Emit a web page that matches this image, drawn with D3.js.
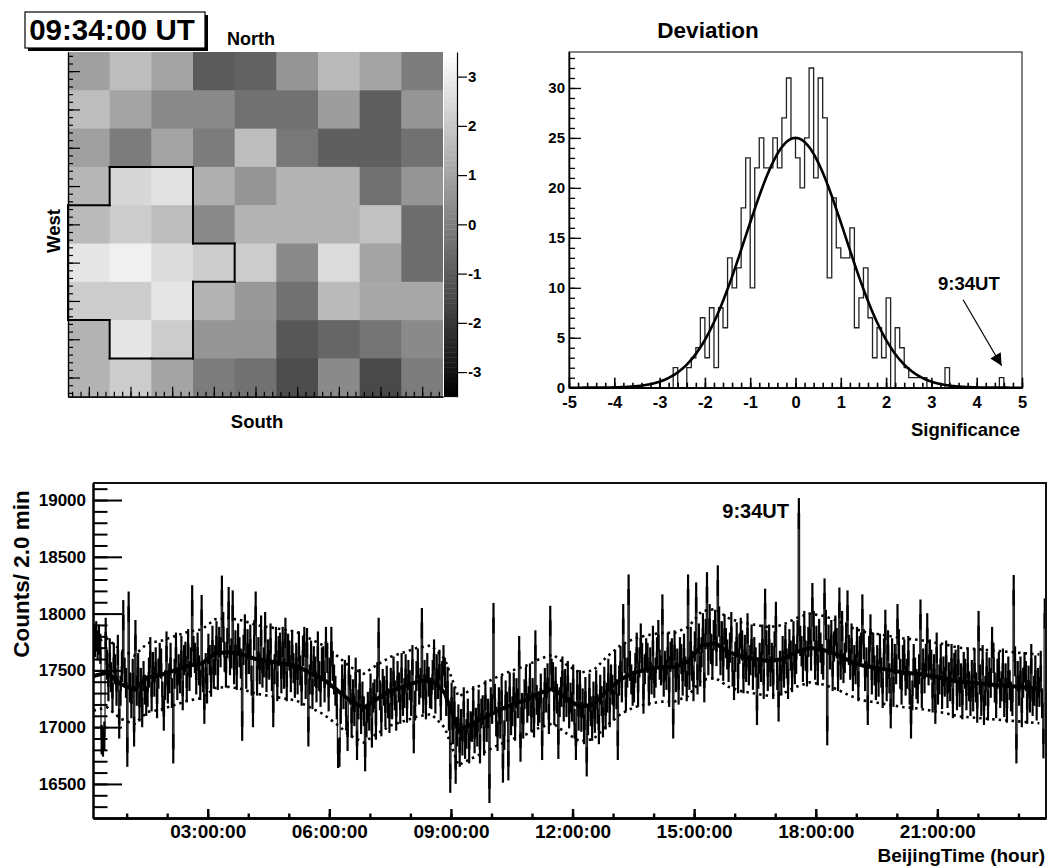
<!DOCTYPE html>
<html>
<head>
<meta charset="utf-8">
<script src="https://cdn.jsdelivr.net/npm/d3@7"></script>
<style>
  body { margin: 0; background: #fff; }
  text { font-family: "Liberation Sans", Arial, sans-serif; font-weight: bold; fill: #000; }
</style>
</head>
<body>
<script>
// ---------- sky map (significance, north row first, west column first) ----------
const skyMap = [
  [0.9, 1.7, 1.0, -1.0, -0.8, 0.6, 1.6, 1.0, -0.1],
  [1.7, 1.0, 0.3, 0.3, -0.4, -0.4, 0.8, -0.9, 0.6],
  [0.9, -0.1, 1.0, -0.1, 1.7, -0.2, -0.9, -0.9, -0.4],
  [1.5, 2.4, 2.7, 1.3, 0.6, 1.4, 1.4, -0.4, 0.6],
  [1.6, 2.1, 1.7, 0.3, 1.4, 1.4, 1.4, 1.8, -0.5],
  [2.8, 3.1, 2.5, 2.1, 2.1, 0.3, 2.5, 1.0, -0.5],
  [2.1, 2.1, 2.8, 1.4, 0.7, -0.4, 1.6, 1.1, 1.1],
  [1.4, 2.8, 2.1, 0.6, 0.6, -1.1, -0.7, -0.3, 0.3],
  [1.4, 2.1, 1.0, -0.1, -0.4, -1.4, 0.3, -1.5, -0.1]
];
// cells inside the outlined excess region [row, col]
const excessCells = [[3,1],[3,2],[4,0],[4,1],[4,2],[5,0],[5,1],[5,2],[5,3],[6,0],[6,1],[6,2],[7,1],[7,2]];
const colorTicks = [-3, -2, -1, 0, 1, 2, 3];

// ---------- significance histogram (bins of 0.1 from -5) ----------
const sigLow = -5, sigWidth = 0.1;
const sigCounts = [
  0,0,0,0,0,0,0,0,0,0, 0,0,0,0,0,0,0,0,0,0,
  0,0,0,2,0,0,2,3,4,7, 3,8,2,8,6,13,10,12,18,23,
  10,22,25,22,22,25,22,27,31,25, 23,20,25,32,21,31,27,11,19,14,
  13,13,16,6,9,12,7,3,6,3, 9,0,6,4,2,1,1,1,1,0,
  0,0,0,2,0,0,0,0,0,0, 0,0,0,0,0,1,0,0,0,0
];
const gausFit = { norm: 25, mean: 0, sigma: 1.1 };
const sigTicks = [-5, -4, -3, -2, -1, 0, 1, 2, 3, 4, 5];
const sigCountTicks = [0, 5, 10, 15, 20, 25, 30];

// ---------- counts per 2 min, starting 00:10 Beijing time ----------
const startMinute = 10, binMinutes = 2;
const counts = [
  17780,17750,17800,17720,17770,17690,16890,16870,16920,17830,
  17550,17360,17650,17440,17260,17610,17510,17320,17680,17030,
  17320,17530,17985,17480,17390,16780,18060,17350,17210,17470,
  16960,17810,17320,17520,17180,17390,17130,17450,17330,17230,
  17310,17480,17660,17270,17530,17400,17570,17210,17470,17610,
  17560,17270,17100,17370,17710,17340,17430,17610,17300,16810,
  17470,17700,17370,17510,17430,17670,17280,17590,17620,17350,
  17730,17450,17570,18115,17670,17610,17420,17700,17500,17370,
  18030,17440,17160,17520,17340,17690,17590,17400,17760,17470,
  17590,17800,17460,17750,17660,18200,17880,17620,17480,17740,
  18100,17590,17650,18070,17510,17720,17460,17780,17660,17560,
  17010,17680,17860,17470,17730,17600,17770,17410,17130,17810,
  18060,17410,17660,17510,17850,17480,17570,17880,17440,17640,
  17550,17780,17450,17130,17510,17750,17360,17670,17700,17430,
  17750,17470,17830,17360,17690,17630,17440,17720,17520,17390,
  17610,17420,17710,17500,17320,17670,17750,17380,17740,16960,
  17420,17630,17290,17580,17490,17350,17710,17450,17310,17570,
  17580,17350,17750,17610,17270,17480,17750,17540,17420,17320,
  17200,16770,16780,17160,17420,17290,17460,17100,16920,17500,
  17330,17040,17290,17140,17480,16840,17200,17380,17070,17270,
  17140,16740,17040,17180,17100,17340,16950,17260,17290,17020,
  17440,17830,17280,17050,17380,17320,17130,17410,17210,17080,
  17390,17200,17490,17280,17100,17450,17350,17160,17520,17230,
  17300,17510,17170,17460,17370,17230,17590,16900,17190,17450,
  17560,17330,17390,17915,17250,17460,17200,17520,17400,17300,
  17290,17460,17640,17250,17510,17380,17550,17190,17450,17590,
  17480,17230,17400,17100,16550,17260,16980,17220,16630,16960,
  17070,16780,17030,16880,17220,16850,16940,17120,16810,17010,
  17000,17230,16900,17040,16960,17200,16810,17120,17150,16880,
  17280,17000,17120,16460,17220,17160,17960,17250,17050,16920,
  17220,17030,17320,16640,16930,17280,17180,16660,17350,17060,
  17140,17350,17010,17300,17210,17670,16825,17170,17030,17290,
  17400,17170,17230,17430,17090,17300,17040,17720,17240,17140,
  17170,17340,16840,17130,17390,17260,17430,17070,17935,17470,
  17440,17150,17400,17250,16850,17220,17310,17490,17180,17380,
  17220,17450,17120,17260,17180,17420,17030,16840,17370,17100,
  17370,17090,17210,16980,17310,16695,17060,17340,17140,17010,
  17270,17080,17370,17160,16980,17330,17230,17040,17400,17110,
  17260,17470,17130,17420,17330,17190,17550,17290,16840,17410,
  17580,17350,17950,17610,17270,17480,18210,17540,17420,17320,
  17350,17520,17700,17310,17570,17780,17610,17250,17510,17650,
  17610,17320,17570,17420,17760,17390,17480,17660,17810,17550,
  17500,18035,17400,17540,17460,17700,17310,17620,17650,17030,
  17720,17440,17560,17330,17660,17600,17410,17690,17490,17360,
  18210,17460,17750,17540,17360,17710,18140,17420,17780,17490,
  17660,17870,17350,17820,18230,17590,17950,17690,17550,17810,
  17900,17670,18290,17930,17590,17800,17540,17860,17740,17640,
  17530,17700,17880,17490,17370,17620,17790,17430,17690,17830,
  17720,17430,17680,17530,17870,17500,17590,17770,17460,17660,
  17570,17150,17470,17610,17530,17770,17380,18085,17720,17450,
  17770,17490,17610,17380,17710,17970,17460,17180,17540,17410,
  17670,17480,17770,17560,17380,17730,17630,17440,17800,17510,
  17600,17810,18880,17760,17670,17530,17890,17630,17490,17750,
  17860,17630,18135,17890,17550,17760,17500,17820,17700,17600,
  17550,18175,17900,16970,17770,17640,17810,17450,17710,17850,
  17740,17450,18095,17550,17890,17520,17610,17790,18070,17680,
  17550,17780,17450,17590,17510,17750,17360,17670,17700,18035,
  17730,17450,17570,17150,17670,17860,17420,17700,17500,17370,
  17590,17400,17690,17480,17300,17650,17900,17360,17720,17430,
  17120,17650,17310,17600,17510,17950,17730,17470,17330,17590,
  17640,17410,17470,17670,17330,17030,17280,17600,17480,17380,
  17340,17510,17990,17300,17560,17430,17600,17870,17500,17640,
  17550,17260,17510,17160,17700,17330,17420,17600,17290,17490,
  17400,17630,17300,17440,17360,17600,17210,17520,17550,17280,
  17590,17310,17430,17200,17530,17470,17280,17560,17360,17230,
  17460,17270,17560,17350,17170,17890,17420,17230,17590,17150,
  17320,17530,17190,17480,17390,17750,17610,17350,17210,17470,
  17530,17300,17360,17560,17220,17430,17170,17490,17370,17270,
  17230,18205,17580,16810,17450,17320,17490,17130,17390,17530,
  17450,17160,17410,17260,17600,17230,17320,17500,17190,17390,
  17310,17540,17210,16855,18000
];
// background estimate and its band, one value every 10 bins (20 min)
const bgLevel = [
  17450,17480,17380,17330,17440,17460,17500,17540,17560,17650,
  17660,17640,17600,17580,17560,17540,17480,17420,17330,17230,
  17170,17250,17320,17360,17400,17420,17300,16970,17030,17090,
  17150,17200,17240,17300,17340,17250,17180,17200,17320,17420,
  17480,17510,17530,17530,17580,17720,17740,17660,17620,17600,
  17580,17600,17660,17700,17680,17640,17580,17540,17520,17500,
  17480,17470,17450,17430,17400,17390,17380,17370,17360,17350,17340
];
const bgUpper = [
  17750,17780,17680,17630,17740,17760,17800,17840,17860,17950,
  17960,17940,17900,17880,17860,17840,17780,17720,17630,17530,
  17470,17550,17620,17660,17700,17720,17600,17270,17330,17390,
  17450,17500,17540,17600,17640,17550,17480,17500,17620,17720,
  17780,17810,17830,17830,17880,18020,18040,17960,17920,17900,
  17880,17900,17960,18000,17980,17940,17880,17840,17820,17800,
  17780,17770,17750,17730,17700,17690,17680,17670,17660,17650,17640
];
const bgLower = [
  17145,17175,17075,17025,17135,17155,17195,17235,17255,17345,
  17355,17335,17295,17275,17255,17235,17175,17115,17025,16925,
  16865,16945,17015,17055,17095,17115,16995,16665,16725,16785,
  16845,16895,16935,16995,17035,16945,16875,16895,17015,17115,
  17175,17205,17225,17225,17275,17415,17435,17355,17315,17295,
  17275,17295,17355,17395,17375,17335,17275,17235,17215,17195,
  17175,17165,17145,17125,17095,17085,17075,17065,17055,17045,17035
];
const timeTicks = [3, 6, 9, 12, 15, 18, 21];
const countTicks = [16500, 17000, 17500, 18000, 18500, 19000];

// =====================================================================
const svg = d3.select("body").append("svg")
  .attr("width", 1049).attr("height", 866)
  .style("background", "#fff");

function styleAxis(g, size, width) {
  g.selectAll("text").attr("font-size", size);
  g.selectAll("path.domain").attr("stroke-width", width);
  g.selectAll(".tick line").attr("stroke-width", width);
}

// ---------------- sky map ----------------
const mapX0 = 68, mapX1 = 443, mapY0 = 52, mapY1 = 396.7;
const colBand = d3.scaleBand().domain(d3.range(9)).range([mapX0, mapX1]);
const rowBand = d3.scaleBand().domain(d3.range(9)).range([mapY0, mapY1]);
const gray = d3.scaleLinear().domain([-3.5, 3.5]).range(["#000", "#fff"]).clamp(true);

const cells = [];
skyMap.forEach((row, r) => row.forEach((v, c) => cells.push({ r, c, v })));
svg.append("g").selectAll("rect").data(cells).join("rect")
  .attr("x", d => colBand(d.c))
  .attr("y", d => rowBand(d.r))
  .attr("width", d => colBand.bandwidth() + (d.c < 8 ? 0.6 : 0))
  .attr("height", d => rowBand.bandwidth() + (d.r < 8 ? 0.6 : 0))
  .attr("fill", d => gray(d.v));

// outline of the excess region
const inRegion = new Set(excessCells.map(([r, c]) => r * 9 + c));
const has = (r, c) => r >= 0 && r < 9 && c >= 0 && c < 9 && inRegion.has(r * 9 + c);
const edges = [];
excessCells.forEach(([r, c]) => {
  const x0 = colBand(c), x1 = x0 + colBand.bandwidth();
  const y0 = rowBand(r), y1 = y0 + rowBand.bandwidth();
  if (!has(r - 1, c)) edges.push([x0, y0, x1, y0]);
  if (!has(r + 1, c)) edges.push([x0, y1, x1, y1]);
  if (!has(r, c - 1)) edges.push([x0, y0, x0, y1]);
  if (!has(r, c + 1)) edges.push([x1, y0, x1, y1]);
});

// map axes (ticks inside)
const mapXs = d3.scaleLinear().domain([-4.5, 4.5]).range([mapX0, mapX1]);
const mapYs = d3.scaleLinear().domain([4.5, -4.5]).range([mapY0, mapY1]);
const mapMinor = d3.range(-44, 45, 2).map(v => v / 10);
const mapMajor = d3.range(-4, 5);

const gl = svg.append("g").attr("transform", `translate(${mapX0},0)`);
gl.call(d3.axisRight(mapYs).tickValues(mapMinor).tickSize(5).tickSizeOuter(0).tickFormat(""));
gl.append("g").call(d3.axisRight(mapYs).tickValues(mapMajor).tickSize(12).tickSizeOuter(0).tickFormat(""));
styleAxis(gl, 10, 1.2);

const gb = svg.append("g").attr("transform", `translate(0,${mapY1})`);
gb.call(d3.axisTop(mapXs).tickValues(mapMinor).tickSize(5).tickSizeOuter(0).tickFormat(""));
gb.append("g").call(d3.axisTop(mapXs).tickValues(mapMajor).tickSize(10).tickSizeOuter(0).tickFormat(""));
styleAxis(gb, 10, 1.2);

svg.append("g").selectAll("line").data(edges).join("line")
  .attr("x1", d => d[0]).attr("y1", d => d[1])
  .attr("x2", d => d[2]).attr("y2", d => d[3])
  .attr("stroke", "#000").attr("stroke-width", 2).attr("stroke-linecap", "square");

// colour bar
const cbX0 = 444, cbX1 = 457;
const cbScale = d3.scaleLinear().domain([-3.5, 3.5]).range([mapY1, mapY0]);
const cbSteps = d3.range(70).map(i => -3.5 + i * 0.1);
svg.append("g").selectAll("rect").data(cbSteps).join("rect")
  .attr("x", cbX0).attr("width", cbX1 - cbX0)
  .attr("y", d => cbScale(d + 0.1))
  .attr("height", d => cbScale(d) - cbScale(d + 0.1) + 0.4)
  .attr("fill", d => gray(d + 0.05));
const gcb = svg.append("g").attr("transform", `translate(${cbX1},0)`)
  .call(d3.axisRight(cbScale).tickValues(colorTicks).tickSize(10).tickSizeOuter(0)
    .tickPadding(1).tickFormat(d => String(d)));
styleAxis(gcb, 15, 1.2);

// labels
svg.append("rect").attr("x", 28).attr("y", 15).attr("width", 180).attr("height", 36).attr("fill", "#000");
svg.append("rect").attr("x", 25).attr("y", 12).attr("width", 180).attr("height", 36)
  .attr("fill", "#fff").attr("stroke", "#000").attr("stroke-width", 1.2);
svg.append("text").attr("x", 112).attr("y", 40).attr("text-anchor", "middle")
  .attr("font-size", 29.5).text("09:34:00 UT");
svg.append("text").attr("x", 251).attr("y", 45).attr("text-anchor", "middle")
  .attr("font-size", 18).text("North");
svg.append("text").attr("x", 257).attr("y", 428).attr("text-anchor", "middle")
  .attr("font-size", 18.5).text("South");
svg.append("text").attr("transform", "translate(60,231) rotate(-90)").attr("text-anchor", "middle")
  .attr("font-size", 18.5).text("West");

// ---------------- significance histogram ----------------
const hX0 = 569, hX1 = 1022, hY0 = 52, hY1 = 387.7;
const xH = d3.scaleLinear().domain([-5, 5]).range([hX0, hX1]);
const yH = d3.scaleLinear().domain([0, 33.6]).range([hY1, hY0]);

svg.append("rect").attr("x", hX0).attr("y", hY0).attr("width", hX1 - hX0).attr("height", hY1 - hY0)
  .attr("fill", "none").attr("stroke", "#333").attr("stroke-width", 1.2);

let hPath = `M${xH(sigLow)},${yH(0)}`;
sigCounts.forEach((n, i) => {
  hPath += `V${yH(n)}H${xH(sigLow + (i + 1) * sigWidth)}`;
});
hPath += `V${yH(0)}`;
svg.append("path").attr("d", hPath).attr("fill", "none")
  .attr("stroke", "#222").attr("stroke-width", 1.3);

const fitPts = d3.range(-5, 5.0001, 0.02)
  .map(x => [x, gausFit.norm * Math.exp(-0.5 * Math.pow((x - gausFit.mean) / gausFit.sigma, 2))]);
svg.append("path").attr("d", d3.line().x(d => xH(d[0])).y(d => yH(d[1]))(fitPts))
  .attr("fill", "none").attr("stroke", "#000").attr("stroke-width", 2.6);

const ghy = svg.append("g").attr("transform", `translate(${hX0},0)`);
ghy.call(d3.axisLeft(yH).tickValues(d3.range(0, 34)).tickSize(-6).tickSizeOuter(0).tickFormat(""));
ghy.append("g").call(d3.axisLeft(yH).tickValues(sigCountTicks).tickSize(-12).tickSizeOuter(0)
  .tickPadding(4).tickFormat(d => String(d)));
styleAxis(ghy, 15, 1.3);

const ghx = svg.append("g").attr("transform", `translate(0,${hY1})`);
ghx.call(d3.axisBottom(xH).tickValues(d3.range(-50, 51, 2).map(v => v / 10)).tickSize(-5).tickSizeOuter(0).tickFormat(""));
ghx.append("g").call(d3.axisBottom(xH).tickValues(sigTicks).tickSize(-10).tickSizeOuter(0)
  .tickPadding(9).tickFormat(d => String(d)));
styleAxis(ghx, 16.5, 1.6);

svg.append("text").attr("x", 708).attr("y", 38).attr("text-anchor", "middle")
  .attr("font-size", 22.5).text("Deviation");
svg.append("text").attr("x", 1020).attr("y", 436).attr("text-anchor", "end")
  .attr("font-size", 18.5).text("Significance");
svg.append("text").attr("x", 938).attr("y", 290).attr("font-size", 18.5).text("9:34UT");

svg.append("defs").append("marker").attr("id", "arrowHead")
  .attr("viewBox", "0 0 10 10").attr("refX", 10).attr("refY", 5)
  .attr("markerWidth", 14).attr("markerHeight", 12).attr("markerUnits", "userSpaceOnUse")
  .attr("orient", "auto")
  .append("path").attr("d", "M0,0L10,5L0,10z").attr("fill", "#000");
svg.append("line")
  .attr("x1", xH(3.7)).attr("y1", yH(8.8)).attr("x2", xH(4.55)).attr("y2", yH(2.2))
  .attr("stroke", "#000").attr("stroke-width", 1.2).attr("marker-end", "url(#arrowHead)");

// ---------------- counts vs time ----------------
const tX0 = 93, tX1 = 1046, tY0 = 483, tY1 = 818;
const xT = d3.scaleLinear().domain([0.17, 23.68]).range([tX0, tX1]);
const yT = d3.scaleLinear().domain([16200, 19150]).range([tY1, tY0]);
const binStart = i => (startMinute + binMinutes * i) / 60;

svg.append("clipPath").attr("id", "plotClip").append("rect")
  .attr("x", tX0).attr("y", tY0).attr("width", tX1 - tX0).attr("height", tY1 - tY0);
const plot = svg.append("g").attr("clip-path", "url(#plotClip)");

let tPath = `M${xT(binStart(0))},${yT(counts[0])}`;
counts.forEach((v, i) => {
  tPath += `V${yT(v)}H${xT(binStart(i + 1))}`;
});
plot.append("path").attr("d", tPath).attr("fill", "none")
  .attr("stroke", "#222").attr("stroke-width", 1.3);

plot.append("g").selectAll("line").data(counts).join("line")
  .attr("x1", (v, i) => xT(binStart(i + 0.5)))
  .attr("x2", (v, i) => xT(binStart(i + 0.5)))
  .attr("y1", v => yT(v - Math.sqrt(v)))
  .attr("y2", v => yT(v + Math.sqrt(v)))
  .attr("stroke", "#000").attr("stroke-width", 2.2);

const knotTime = k => binStart(10 * k + 0.5);
const bandLine = d3.line().x((v, k) => xT(knotTime(k))).y(v => yT(v));
[bgUpper, bgLower].forEach(arr => {
  plot.append("path").attr("d", bandLine(arr)).attr("fill", "none")
    .attr("stroke", "#000").attr("stroke-width", 2.6).attr("stroke-dasharray", "2.5,4");
});
plot.append("path").attr("d", bandLine(bgLevel)).attr("fill", "none")
  .attr("stroke", "#000").attr("stroke-width", 4).attr("stroke-linejoin", "round");

// frame and axes
svg.append("path").attr("d", `M${tX0},${tY0}H${tX1}V${tY1}`)
  .attr("fill", "none").attr("stroke", "#111").attr("stroke-width", 2);

const gty = svg.append("g").attr("transform", `translate(${tX0},0)`);
gty.call(d3.axisLeft(yT).tickValues(d3.range(16300, 19101, 100)).tickSize(-14.5).tickSizeOuter(0).tickFormat(""));
gty.append("g").call(d3.axisLeft(yT).tickValues(countTicks).tickSize(-29).tickSizeOuter(0)
  .tickPadding(7).tickFormat(d => String(d)));
styleAxis(gty, 17, 2);

const gtx = svg.append("g").attr("transform", `translate(0,${tY1})`);
gtx.call(d3.axisBottom(xT).tickValues(d3.range(1, 24)).tickSize(-4.5).tickSizeOuter(0).tickFormat(""));
gtx.append("g").call(d3.axisBottom(xT).tickValues(timeTicks).tickSize(-9).tickSizeOuter(0).tickPadding(7)
  .tickFormat(d => (d < 10 ? "0" : "") + d + ":00:00"));
styleAxis(gtx, 19, 2.4);

svg.append("text").attr("transform", "translate(29,574) rotate(-90)").attr("text-anchor", "middle")
  .attr("font-size", 22.5).text("Counts/ 2.0 min");
svg.append("text").attr("x", 1045).attr("y", 862).attr("text-anchor", "end")
  .attr("font-size", 19).text("BeijingTime (hour)");
svg.append("text").attr("x", 789).attr("y", 518).attr("text-anchor", "end")
  .attr("font-size", 20).text("9:34UT");
</script>
</body>
</html>
